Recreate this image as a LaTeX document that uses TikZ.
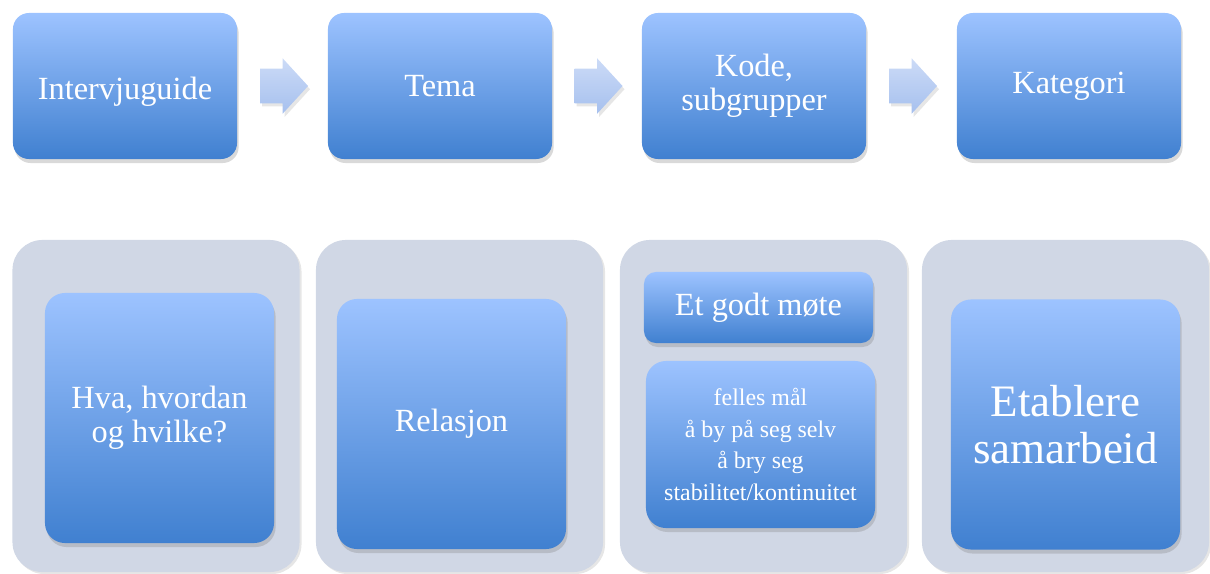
\documentclass[tikz,border=0pt]{standalone}
\usepackage{fontspec}
\setmainfont{Liberation Serif}
\usetikzlibrary{shapes.arrows,shadows,positioning,calc}

\definecolor{boxtop}{HTML}{9DC3FF}
\definecolor{boxbot}{HTML}{4080D0}
\definecolor{panelgray}{HTML}{D0D7E5}
\definecolor{arrtop}{HTML}{CCDBF7}
\definecolor{arrbot}{HTML}{A6C0EE}

\tikzset{
  stepbox/.style={rounded corners=0.4cm, top color=boxtop, bottom color=boxbot,
    text=white, align=center, font=\fontsize{23}{24}\selectfont,
    minimum width=5.6cm, minimum height=3.65cm, inner sep=0pt,
    drop shadow={opacity=0.3, shadow xshift=0.04cm, shadow yshift=-0.1cm}},
  panel/.style={fill=panelgray, rounded corners=0.75cm,
    minimum width=7.175cm, minimum height=8.3cm, inner sep=0pt,
    drop shadow={opacity=0.2, shadow xshift=0.05cm, shadow yshift=-0.05cm}},
  innerbox/.style={stepbox, rounded corners=0.5cm, minimum width=5.725cm, minimum height=6.25cm},
  flowarrow/.style={single arrow, top color=arrtop, bottom color=arrbot,
    minimum height=1.2cm, inner xsep=0pt, inner ysep=0.425cm, xshift=-0.16cm,
    single arrow head extend=0.26cm, single arrow tip angle=95,
    drop shadow={opacity=0.2, shadow xshift=0.05cm, shadow yshift=-0.08cm}}
}

\begin{document}
\begin{tikzpicture}[x=0.025cm, y=-0.025cm]
  \useasboundingbox (0,0) rectangle (1210,573);

  % top row
  \node[stepbox] (guide) at (125,86) {\raisebox{-0.15cm}[\height][\depth]{Intervjuguide}};
  \node[stepbox] (tema) at (440,86) {Tema};
  \node[stepbox] (kode) at (754,86) {Kode,\\subgrupper};
  \node[stepbox] (kat) at (1069,86) {Kategori};

  \node[flowarrow] (a1) at ($(guide.east)!0.5!(tema.west)$) {};
  \node[flowarrow] (a2) at ($(tema.east)!0.5!(kode.west)$) {};
  \node[flowarrow] (a3) at ($(kode.east)!0.5!(kat.west)$) {};

  % bottom row
  \node[panel] (p1) at (156,406) {};
  \node[panel] (p2) at (459.5,406) {};
  \node[panel] (p3) at (763.5,406) {};
  \node[panel] (p4) at (1065.5,406) {};

  \node[innerbox] (hva) at (159.5,418) {Hva, hvordan\\og hvilke?};
  \node[innerbox] (rel) at (451.5,424) {Relasjon};
  \node[stepbox, rounded corners=0.3cm, minimum width=5.725cm, minimum height=1.775cm] (mote) at (758.5,307.5) {Et godt møte};
  \node[stepbox, rounded corners=0.5cm, minimum width=5.725cm, minimum height=4.175cm,
    font=\fontsize{17}{22.4}\selectfont] (liste) at (760.5,444.5)
    {felles mål\\å by på seg selv\\å bry seg\\stabilitet/kontinuitet};
  \node[innerbox, font=\fontsize{32}{33.5}\selectfont] (etab) at (1065.5,424.5) {Etablere\\samarbeid};
\end{tikzpicture}
\end{document}
